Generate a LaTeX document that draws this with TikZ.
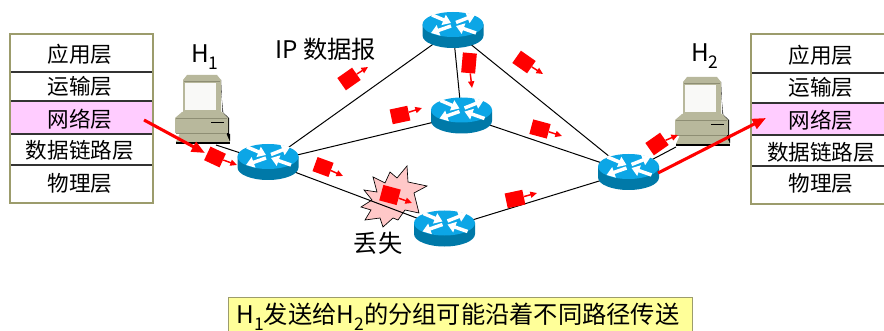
\documentclass[tikz,border=0pt]{standalone}
\usepackage{fontspec}
\setmainfont{Noto Sans CJK SC}
\usetikzlibrary{arrows.meta}
\definecolor{olivebd}{HTML}{9C9C6C}
\definecolor{pinkfill}{HTML}{FFCCFF}
\definecolor{yellowfill}{HTML}{FFFF99}
\definecolor{rtop}{HTML}{0CA6E6}
\definecolor{rside}{HTML}{0079A8}
\definecolor{pcbody}{HTML}{B8B89C}
\definecolor{pcdark}{HTML}{8E8E74}
\definecolor{burstfill}{HTML}{FFC8C8}
\newcommand{\sub}[1]{\raisebox{-0.3em}{\scalebox{0.72}{#1}}}
\tikzset{
  x=0.75pt,y=-0.75pt,
  layertext/.style={inner sep=0pt,font=\fontsize{16.2pt}{18pt}\selectfont},
  bigtext/.style={inner sep=0pt,font=\fontsize{18.2pt}{21pt}\selectfont},
  link/.style={black,line width=0.75pt},
  divider/.style={black!80,line width=0.9pt},
  stackbd/.style={draw=olivebd,line width=2.2pt},
  packetbox/.style={fill=red,inner sep=0pt},
  packetarrow/.style={red,line width=1.1pt,-{Triangle[length=5pt,width=4.5pt]}},
  routeanchor/.style={minimum width=46pt,minimum height=27pt,inner sep=0pt},
  routerarrow/.style={white,line width=2.6pt,-{Triangle[length=6pt,width=8pt]}},
  bigarrow/.style={red,line width=2.3pt,-{Triangle[length=10pt,width=8pt]}}
}
\newcommand{\routershape}[1]{%
  \begin{scope}[shift={(#1)}]
    \fill[rside] (-30.5,-5.5) -- (-30.5,5.5) arc[start angle=180,end angle=360,x radius=30.5,y radius=-12.5] -- (30.5,-5.5) -- cycle;
    \fill[rtop] (0,-5.5) ellipse[x radius=30.5,y radius=12.5];
    \draw[routerarrow] (-21,-15) -- (-2,-7);
    \draw[routerarrow] (3,-7.5) -- (22,-15);
    \draw[routerarrow] (-2,-4) -- (-22,3);
    \draw[routerarrow] (23,3) -- (3,-4);
  \end{scope}}
\newcommand{\pcshape}[1]{%
  \begin{scope}[shift={(#1)}]
    \fill[black] (176,141) rectangle (230,144.5);
    \fill[black] (221,80) -- (222.5,112) -- (229,118) -- (229,134) -- (230,134) -- (230,141) -- (226,141) -- (220,80) -- cycle;
    \fill[pcbody] (183,80) -- (187,75) -- (217,75) -- (221,80) -- (221,112) -- (183,112) -- cycle;
    \fill[white!92!pcbody] (185,83) rectangle (216,110);
    \draw[pcdark,line width=0.6pt] (184,81) -- (220,81);
    \fill[pcbody] (182,112) -- (222,112) -- (228,118) -- (228,133) -- (175,133) -- (175,118) -- cycle;
    \draw[pcdark,line width=0.5pt] (176,118.5) -- (227,118.5);
    \draw[black,line width=0.7pt] (211,122) -- (224,122);
    \fill[pcbody] (180,133) -- (226,133) -- (230,142) -- (176,142) -- cycle;
    \draw[pcdark,line width=0.5pt] (176,133.5) -- (227,133.5);
  \end{scope}}
\newcommand{\pkt}[8]{%
  \node[packetbox,rotate=#4,minimum width=#5*0.75pt,minimum height=#6*0.75pt] (#1) at (#2,#3) {};
  \coordinate (#1e) at (#7,#8);
  \draw[packetarrow] (#1) -- (#1e);}
\begin{document}
\begin{tikzpicture}
\clip (0,0) rectangle (884,331);
\fill[white] (0,0) rectangle (884,331);
% invisible anchors for routers
\node[routeanchor] (r1) at (268,162) {};
\node[routeanchor] (r2) at (453,30) {};
\node[routeanchor] (r3) at (461.5,115.5) {};
\node[routeanchor] (r4) at (444.5,228.5) {};
\node[routeanchor] (r5) at (628.5,172) {};
\coordinate (h1p) at (216,145);
\coordinate (h2p) at (676,147);
% links
\draw[link] (h1p) -- (r1.center);
\draw[link] (h2p) -- (r5.center);
\draw[link] (r1.center) -- (r2.center);
\draw[link] (r1.center) -- (r3.center);
\draw[link] (r2.center) -- (r3.center);
\draw[link] (r2.center) -- (r5.center);
\draw[link] (r3.center) -- (r5.center);
\draw[link] (r4.center) -- (r5.center);
% burst
\filldraw[fill=burstfill,draw=black,line width=0.5pt] (373,177) -- (385,183) -- (390,172) -- (397,178) -- (407,166) -- (408,182) -- (427,186) -- (414,193) -- (419,213) -- (405,210) -- (398,220) -- (393,218) -- (383,227) -- (380,218) -- (365,220) -- (371,210) -- (361,207) -- (372,200) -- (364,190) -- (377,192) -- cycle;
\draw[link] (r1.center) -- (r4.center);
% computers
\node[minimum width=40pt,minimum height=50pt,inner sep=0pt] (h1) at (202,110) {};
\node[minimum width=40pt,minimum height=50pt,inner sep=0pt] (h2) at (702,112) {};
\pcshape{0,0}
\pcshape{500,2}
% routers
\routershape{r1.center}
\routershape{r2.center}
\routershape{r3.center}
\routershape{r4.center}
\routershape{r5.center}
% left stack
\fill[pinkfill] (10,101) rectangle (153,134);
\coordinate (la1) at (10,72); \coordinate (lb1) at (153,72);
\coordinate (la2) at (10,101); \coordinate (lb2) at (153,101);
\coordinate (la3) at (10,134); \coordinate (lb3) at (153,134);
\coordinate (la4) at (10,165); \coordinate (lb4) at (153,165);
\draw[divider] (la1) -- (lb1);
\draw[divider] (la2) -- (lb2);
\draw[divider] (la3) -- (lb3);
\draw[divider] (la4) -- (lb4);
\draw[stackbd] (10,34) rectangle (153,203);
\node[layertext] (l1) at (80,54) {应用层};
\node[layertext] (l2) at (80,86) {运输层};
\node[layertext] (l3) at (80,119) {网络层};
\node[layertext] (l4) at (80,150) {数据链路层};
\node[layertext] (l5) at (80,183) {物理层};
% right stack
\fill[pinkfill] (751,103) rectangle (894,135);
\coordinate (ra1) at (751,73); \coordinate (rb1) at (894,73);
\coordinate (ra2) at (751,103); \coordinate (rb2) at (894,103);
\coordinate (ra3) at (751,135); \coordinate (rb3) at (894,135);
\coordinate (ra4) at (751,166); \coordinate (rb4) at (894,166);
\draw[divider] (ra1) -- (rb1);
\draw[divider] (ra2) -- (rb2);
\draw[divider] (ra3) -- (rb3);
\draw[divider] (ra4) -- (rb4);
\draw[stackbd] (751,34) rectangle (894,204);
\node[layertext] (m1) at (821,55) {应用层};
\node[layertext] (m2) at (821,87) {运输层};
\node[layertext] (m3) at (821,120) {网络层};
\node[layertext] (m4) at (821,152) {数据链路层};
\node[layertext] (m5) at (821,183) {物理层};
% labels
\node[bigtext] (lh1) at (205,57) {H\sub{1}};
\node[bigtext] (lh2) at (705,56) {H\sub{2}};
\node[bigtext] (ip) at (325.5,49) {IP 数据报};
\node[bigtext] (lost) at (378,243) {丢失};
% packets
\pkt{p1}{215}{157}{-25}{17}{15}{237}{165}
\pkt{p2}{323}{167}{-20}{17}{15}{343}{176}
\pkt{p3}{390}{195}{-15}{18}{16}{412}{203}
\pkt{p4}{349}{79}{35}{18}{15}{368}{67}
\pkt{p5}{400}{115}{12}{18}{15}{422}{108}
\pkt{p6}{469}{63}{-5}{14}{20}{472}{88}
\pkt{p7}{524}{62}{-35}{18}{15}{543}{74}
\pkt{p8}{540}{129}{-15}{18}{15}{562}{136}
\pkt{p9}{515}{199}{12}{18}{15}{537}{193}
\pkt{p10}{657}{144}{35}{18}{15}{678}{135}
% big arrows
\coordinate (as) at (144,120); \coordinate (ae) at (205,153);
\draw[bigarrow] (as) -- (ae);
\coordinate (bs) at (658,173); \coordinate (be) at (766,118);
\draw[bigarrow] (bs) -- (be);
% caption
\node[draw=olivebd,line width=0.8pt,fill=yellowfill,minimum width=348pt,minimum height=32pt,inner sep=0pt,anchor=north west] (capbox) at (228,297) {};
\node[bigtext] (cap) at (458,317) {H\sub{1}发送给H\sub{2}的分组可能沿着不同路径传送};
\end{tikzpicture}
\end{document}
